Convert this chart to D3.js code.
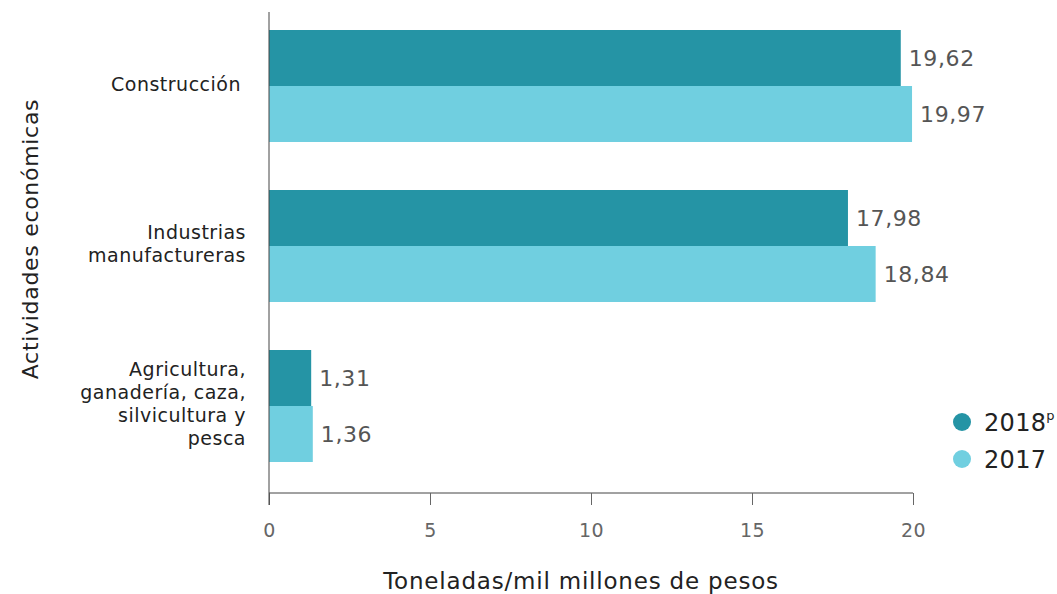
<!DOCTYPE html>
<html><head><meta charset="utf-8">
<script src="https://cdn.jsdelivr.net/npm/d3@7"></script>
<style>body{margin:0;background:#fff;} svg{display:block;font-family:"DejaVu Sans",sans-serif;}</style>
</head><body>
<svg id="c" width="1057" height="594"></svg>
<script>
const categories = ["Construcción", "Industrias manufactureras", "Agricultura, ganadería, caza, silvicultura y pesca"];
const categoryLines = [["Construcción"], ["Industrias", "manufactureras"], ["Agricultura,", "ganadería, caza,", "silvicultura y", "pesca"]];
const series = ["2018", "2017"];
const values2018 = [19.62, 17.98, 1.31];
const values2017 = [19.97, 18.84, 1.36];
const xTicks = [0, 5, 10, 15, 20];
const colors = ["#2594a5", "#70cfe0"];

const svg = d3.select("#c");
const x = d3.scaleLinear().domain([0, 20]).range([269, 913]);
const y = d3.scaleBand().domain(categories).range([12, 480]).paddingInner(0.3).paddingOuter(0.1125);
const ySub = d3.scaleBand().domain(series).range([0, y.bandwidth()]);
const axisY = 493;

const data = categories.map((c, i) => ({c, vals: [values2018[i], values2017[i]]}));

const g = svg.selectAll("g.cat").data(data).join("g").attr("transform", d => `translate(0,${y(d.c)})`);
g.selectAll("rect").data(d => d.vals.map((v, j) => ({v, s: series[j], j}))).join("rect")
  .attr("x", x(0)).attr("y", d => ySub(d.s)).attr("width", d => x(d.v) - x(0)).attr("height", ySub.bandwidth())
  .attr("fill", d => colors[d.j]);
g.selectAll("text.val").data(d => d.vals.map((v, j) => ({v, s: series[j]}))).join("text").attr("class", "val")
  .attr("x", d => x(d.v) + 8).attr("y", d => ySub(d.s) + ySub.bandwidth() / 2).attr("dy", "0.36em")
  .attr("font-size", 22).attr("letter-spacing", 0.6).attr("fill", "#555").text(d => d3.format(".2f")(d.v).replace(".", ","));

// x axis
const xa = svg.append("g").attr("transform", `translate(0,${axisY})`)
  .call(d3.axisBottom(x).tickValues(xTicks).tickSize(12).tickPadding(19).tickFormat(d => d));
xa.select(".domain").attr("stroke", "#444").attr("d", `M${x(0)},0H${x(20)}`);
xa.selectAll(".tick line").attr("stroke", "#666");
xa.selectAll(".tick text").attr("font-size", 19).attr("letter-spacing", 0.5).attr("fill", "#666").attr("font-family", "'DejaVu Sans', sans-serif");

// y axis line
svg.append("line").attr("x1", x(0)).attr("x2", x(0)).attr("y1", 12).attr("y2", axisY + 12).attr("stroke", "#444");

// category labels
const lh = 23;
svg.selectAll("text.cat").data(categories).join("text").attr("class", "cat")
  .attr("text-anchor", "end").attr("font-size", 19).attr("letter-spacing", 0.5).attr("fill", "#222")
  .each(function(c, i) {
    const lines = categoryLines[i];
    const cy = y(c) + y.bandwidth() / 2 - 2;
    const t = d3.select(this);
    lines.forEach((l, k) => {
      t.append("tspan").attr("x", i === 0 ? 241 : 246)
        .attr("y", cy + (k - (lines.length - 1) / 2) * lh).attr("dy", "0.36em").text(l);
    });
  });

// axis titles
svg.append("text").attr("transform", "translate(38,239) rotate(-90)").attr("text-anchor", "middle")
  .attr("font-size", 22).attr("letter-spacing", 0.7).attr("fill", "#222").text("Actividades económicas");
svg.append("text").attr("x", 581).attr("y", 589).attr("text-anchor", "middle")
  .attr("font-size", 23).attr("letter-spacing", 0.8).attr("fill", "#222").text("Toneladas/mil millones de pesos");

// legend
const leg = svg.append("g");
const legY = [422, 459];
series.forEach((s, i) => {
  leg.append("circle").attr("cx", 962).attr("cy", legY[i]).attr("r", 9).attr("fill", colors[i]);
  const t = leg.append("text").attr("x", 984).attr("y", legY[i]).attr("dy", "0.36em").attr("font-size", 24).attr("letter-spacing", 0.3).attr("fill", "#222").text(s);
  if (i === 0) t.append("tspan").attr("font-size", 13).attr("dy", "-0.8em").text("p");
});
</script>
</body></html>
